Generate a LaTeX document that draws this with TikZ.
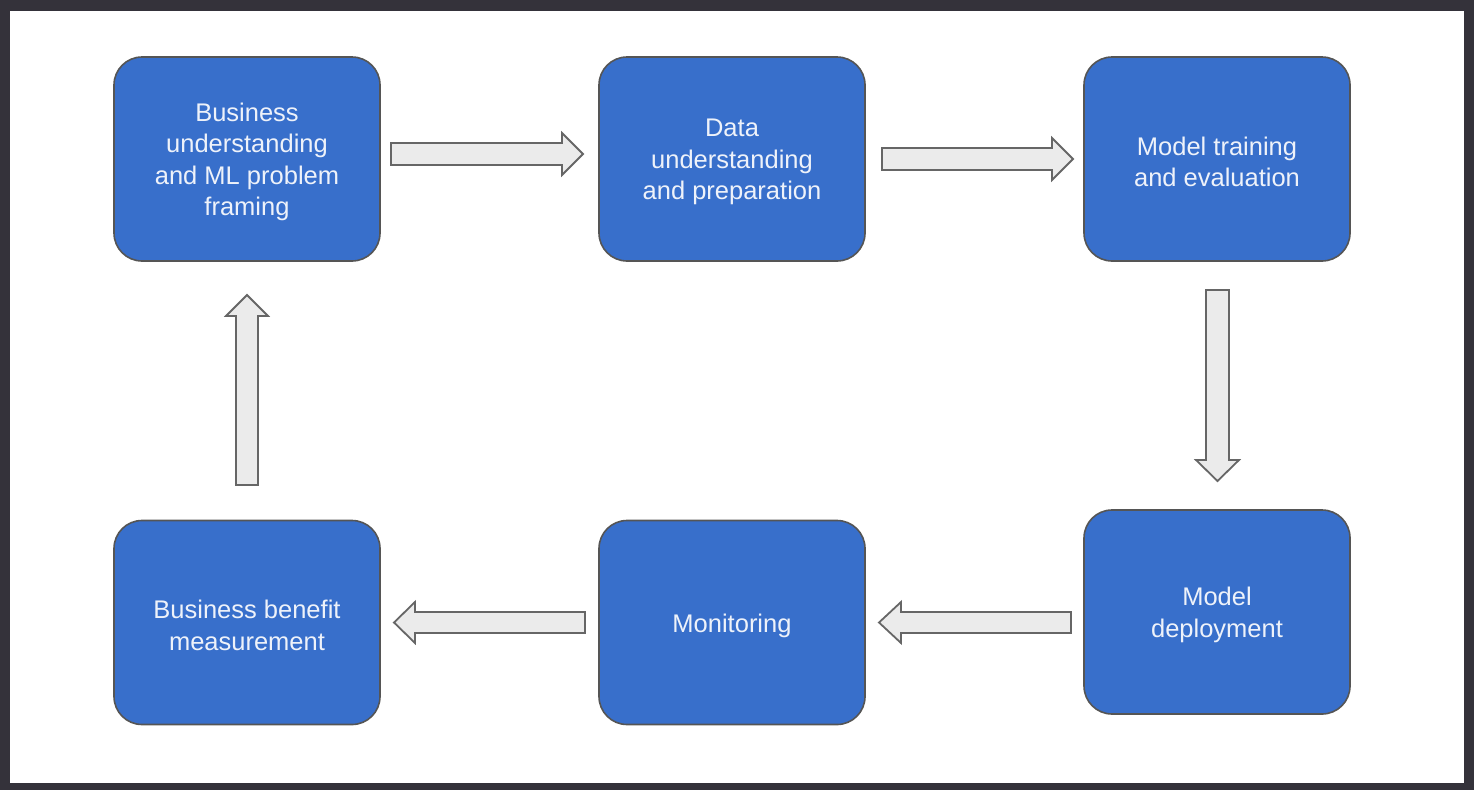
\documentclass[tikz,border=0pt]{standalone}
\usepackage{fontspec}
\setmainfont{Liberation Sans}
\definecolor{frame}{HTML}{34323A}
\definecolor{boxblue}{HTML}{386FCB}
\definecolor{boxline}{HTML}{555555}
\definecolor{arrowfill}{HTML}{EBEBEB}
\definecolor{arrowline}{HTML}{666666}
\definecolor{txt}{HTML}{EEF2FA}
\begin{document}
\begin{tikzpicture}[x=1pt,y=-1pt,
  stagebox/.style={draw=boxline, line width=1.6pt, fill=boxblue, rounded corners=28pt,
    minimum width=266pt, minimum height=204pt, inner sep=0pt},
  stagetext/.style={text=txt, align=center, inner sep=0pt, yshift=-3pt,
    font=\fontsize{25.5}{31.5}\selectfont},
  blockarrow/.style={draw=arrowline, line width=1.8pt, fill=arrowfill, line join=miter}]
\useasboundingbox (0,0) rectangle (1474,790);
\fill[frame] (0,0) rectangle (1474,790);
\fill[white] (10,11) rectangle (1464,783);

\node[stagebox, label={[stagetext]center:{Business\\understanding\\and ML problem\\framing}}] (bu) at (247,159) {};
\node[stagebox, label={[stagetext]center:{Data\\understanding\\and preparation}}] (du) at (732,159) {};
\node[stagebox, label={[stagetext]center:{Model training\\and evaluation}}] (mt) at (1217,159) {};
\node[stagebox, label={[stagetext]center:{Model\\deployment}}] (md) at (1217,612) {};
\node[stagebox, label={[stagetext]center:{Monitoring}}] (mo) at (732,622.5) {};
\node[stagebox, label={[stagetext]center:{Business benefit\\measurement}}] (bb) at (247,622.5) {};

% right arrows (top row)
\draw[blockarrow] (391,143) -- (562,143) -- (562,133) -- (583,154) -- (562,175) -- (562,165) -- (391,165) -- cycle;
\draw[blockarrow] (882,148) -- (1052,148) -- (1052,138) -- (1073,159) -- (1052,180) -- (1052,170) -- (882,170) -- cycle;
% down arrow
\draw[blockarrow] (1206,290) -- (1206,460) -- (1196,460) -- (1217.5,481) -- (1239,460) -- (1229,460) -- (1229,290) -- cycle;
% left arrows (bottom row)
\draw[blockarrow] (1071,612) -- (901,612) -- (901,602) -- (879,622.5) -- (901,643) -- (901,633) -- (1071,633) -- cycle;
\draw[blockarrow] (585,612) -- (415,612) -- (415,602) -- (394,622.5) -- (415,643) -- (415,633) -- (585,633) -- cycle;
% up arrow
\draw[blockarrow] (236,485) -- (236,316) -- (226,316) -- (247,295) -- (268,316) -- (258,316) -- (258,485) -- cycle;
\end{tikzpicture}
\end{document}
